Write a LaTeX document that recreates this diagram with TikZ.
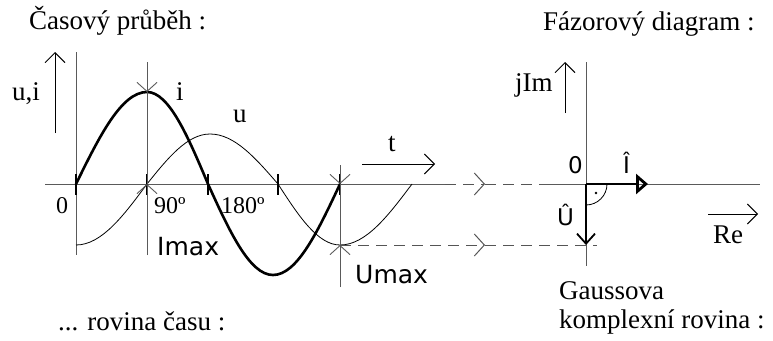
\documentclass[tikz,border=0pt]{standalone}
\usepackage{fontspec}
\setmainfont{Liberation Serif}
\newfontfamily\sansfont{DejaVu Sans}
\usetikzlibrary{arrows.meta}
\definecolor{axisgray}{HTML}{5A5A5A}
\definecolor{dashgray}{HTML}{555555}

\begin{document}
\begin{tikzpicture}[
    x=10pt, y=-10pt,
    every node/.style={inner sep=0pt, anchor=base west},
    serifLabel/.style={font=\fontsize{27}{30}\selectfont},
    smallLabel/.style={font=\fontsize{24}{28}\selectfont},
    sansLabel/.style={font=\sansfont\fontsize{25}{28}\selectfont},
    sansSmall/.style={font=\sansfont\fontsize{23}{26}\selectfont},
    axisLine/.style={draw=axisgray, line width=0.9pt},
    currentLine/.style={line width=2.6pt},
    voltageLine/.style={line width=0.8pt},
    tickMark/.style={line width=2.8pt},
    openArrow/.style={-{Straight Barb[length=10pt, width=20pt]}, line width=0.9pt},
    dimArrow/.style={-{Straight Barb[length=9pt, width=20pt]}, draw=axisgray, line width=0.9pt},
    guideDashed/.style={draw=dashgray, line width=1pt, dash pattern=on 11pt off 7pt},
    guideTip/.style={guideDashed, -{Straight Barb[length=10pt, width=22pt]}},
    phasorI/.style={line width=2.8pt, -{Triangle[open, length=12pt, width=20pt]}},
    phasorU/.style={line width=1.8pt, -{Straight Barb[length=10pt, width=18pt]}}
]
    \useasboundingbox (0,0) rectangle (77.3,34.0);

    % Casovy prubeh - osy
    \draw[axisLine] (4.5,18.4) -- (44.5,18.4);
    \draw[axisLine] (7.6,5.2) -- (7.6,25.5);
    \draw[openArrow] (5.5,13.3) -- (5.5,5.2);
    \draw[openArrow] (36.2,16.4) -- (43.5,16.4);

    % Proud i a napeti u
    \draw[currentLine] (7.6,18.4) sin (14.7,9.2) cos (20.8,18.4) sin (27.3,27.5) cos (34.0,18.4);
    \draw[voltageLine] (7.6,24.5) cos (14.7,18.4) sin (21.0,13.4) cos (27.8,18.4) sin (34.0,24.5) cos (41.2,18.4);

    % Znacky na ose
    \foreach \tx in {7.6,14.7,20.8,27.8,34.0}
        \draw[tickMark] (\tx,17.4) -- (\tx,19.5);

    % Koty Imax a Umax
    \coordinate (iPeak) at (14.7,9.2);
    \coordinate (iZero) at (14.7,18.4);
    \coordinate (uZero) at (34.0,18.4);
    \coordinate (uMin) at (34.0,24.5);
    \draw[dimArrow] (14.7,6.2) -- (iPeak);
    \draw[axisLine] (iPeak) -- (iZero);
    \draw[dimArrow] (14.7,25.5) -- (iZero);
    \draw[dimArrow] (34.0,16.5) -- (uZero);
    \draw[axisLine] (uZero) -- (uMin);
    \draw[dimArrow] (34.0,28.7) -- (uMin);

    % Fazorovy diagram - osy
    \coordinate (origin) at (58.6,18.4);
    \draw[axisLine] (58.6,6.2) -- (58.6,26.6);
    \draw[axisLine] (54.0,18.4) -- (76.0,18.4);
    \draw[openArrow] (56.5,11.3) -- (56.5,6.2);
    \draw[openArrow] (70.8,21.4) -- (75.8,21.4);

    % Prenos do komplexni roviny
    \coordinate (topMid) at (48.5,18.4);
    \coordinate (botMid) at (48.5,24.5);
    \coordinate (uTip) at (58.6,24.5);
    \draw[guideTip] (44.5,18.4) -- (topMid);
    \draw[guideDashed] (topMid) -- (54.0,18.4);
    \draw[guideTip] (uMin) -- (botMid);
    \draw[guideDashed] (botMid) -- (59.7,24.5);

    % Fazory
    \draw[phasorI] (origin) -- (64.8,18.4);
    \draw[phasorU] (origin) -- (uTip);
    \draw[voltageLine] (58.6,20.5) arc[start angle=90, end angle=0, radius=2.1];
    \fill (59.6,19.3) circle (1.3pt);

    % Popisky
    \node[serifLabel] (titleTime) at (2.9,2.9) {Časový průběh :};
    \node[serifLabel] (titlePhasor) at (54.3,3.0) {Fázorový diagram :};
    \node[serifLabel] (labelUI) at (1.2,10.0) {u,i};
    \node[serifLabel] (labelI) at (17.6,10.0) {i};
    \node[serifLabel] (labelU) at (23.3,12.2) {u};
    \node[serifLabel] (labelT) at (38.8,15.1) {t};
    \node[smallLabel] (labelZero) at (5.6,21.3) {0};
    \node[smallLabel] (label90) at (15.4,21.3) {90º};
    \node[smallLabel] (label180) at (22.1,21.3) {180º};
    \node[sansLabel] (labelImax) at (15.7,25.5) {Imax};
    \node[sansLabel] (labelUmax) at (35.5,28.3) {Umax};
    \node[serifLabel] (titlePlane) at (5.8,33.0) {... rovina času :};
    \node[serifLabel] (labelJIm) at (51.5,9.1) {jIm};
    \node[sansSmall] (labelOrigin) at (56.8,17.3) {0};
    \node[sansSmall] (labelIhat) at (62.3,17.3) {Î};
    \node[sansSmall] (labelUhat) at (55.7,22.5) {Û};
    \node[serifLabel] (labelRe) at (71.3,24.3) {Re};
    \node[serifLabel] (labelGauss) at (55.9,29.9) {Gaussova};
    \node[serifLabel] (labelComplex) at (55.9,32.8) {komplexní rovina :};
\end{tikzpicture}
\end{document}
